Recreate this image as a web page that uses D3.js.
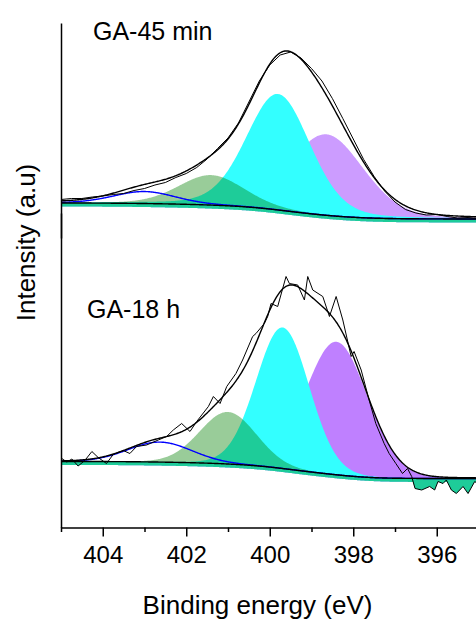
<!DOCTYPE html>
<html>
<head>
<meta charset="utf-8">
<script src="https://cdn.jsdelivr.net/npm/d3@7"></script>
<style>
body { margin: 0; background: #fff; }
text { font-family: Arial, "Liberation Sans", sans-serif; fill: #000; }
</style>
</head>
<body>
<div id="chart"></div>
<script>
// Peak order in every list: blue, green, cyan, purple

// GA-45 min fit (binding energy eV, height a.u., FWHM eV)
var topCenters = [403.0, 401.4, 399.8, 398.64];
var topHeights = [12, 30, 116, 81];
var topFwhm = [1.75, 1.85, 1.8, 2.1];
var topMix = 0.2;          // Lorentzian fraction
var topBgHigh = 16;        // Shirley step

// GA-45 min measured spectrum
var topRawE = [405, 404.75, 404.5, 404.25, 404, 403.75, 403.5, 403.25, 403, 402.75, 402.5,
  402.25, 402, 401.75, 401.5, 401.25, 401, 400.75, 400.5, 400.25, 400, 399.75, 399.5,
  399.25, 399, 398.75, 398.5, 398.25, 398, 397.75, 397.5, 397.25, 397, 396.75, 396.5,
  396.25, 396, 395.75, 395.5, 395.25, 395];
var topRawI = [19.5, 20.5, 20.5, 22, 23, 24.5, 25.5, 28.5, 30.5, 34, 36.5,
  41.5, 45.5, 51.5, 60, 70.5, 81, 96, 117, 138, 154, 164, 167,
  161, 150.5, 138, 120.5, 100.5, 80, 59.5, 42.5, 28, 17, 9.5, 6,
  4, 4.5, 2.5, 1, 1.5, 0.5];

// GA-18 h fit
var botCenters = [402.63, 401.0, 399.69, 398.4];
var botHeights = [20, 52, 141, 133];
var botFwhm = [1.8, 1.6, 1.5, 1.75];
var botMix = 0.05;
var botBgHigh = 17;

// GA-18 h measured spectrum
var botRawE = [404.98, 404.86, 404.74, 404.59, 404.43, 404.26, 404.11, 403.91, 403.75, 403.51,
  403.35, 403.19, 402.95, 402.67, 402.47, 402.31, 402.11, 401.91, 401.75, 401.47,
  401.35, 401.19, 401.03, 400.81, 400.65, 400.41, 400.33, 400.13, 400.05, 399.97,
  399.81, 399.61, 399.53, 399.33, 399.17, 399.09, 398.97, 398.73, 398.57, 398.41,
  398.25, 398.05, 397.98, 397.81, 397.62, 397.46, 397.26, 397.14, 396.98, 396.82,
  396.7, 396.6, 396.52, 396.36, 396.17, 396.05, 395.97, 395.85, 395.77, 395.65,
  395.53, 395.37, 395.25, 395.09, 395.0];
var botRawI = [20, 16.5, 19.5, 12.5, 18, 27, 21, 15, 24, 28,
  25, 32, 33.5, 38.5, 42, 48.5, 55, 47, 57, 72,
  82, 75, 92, 105, 118.5, 142, 145, 155, 162, 175,
  172, 202, 195, 193.5, 178.5, 202, 188.5, 182, 162, 182,
  158.5, 122, 127, 108.5, 78.5, 55, 35, 25, 15, 5,
  10, 2, -10, -11.5, -8, -11.5, -3, -5, -1.5, -11.5,
  -15, -8, -15, -3, -6];

var majorTicks = [404, 402, 400, 398, 396];
var minorTicks = [405, 403, 401, 399, 397, 395];

// Sizing
var width = 476;
var height = 621;
var strip = 3.5;

var svg = d3.select("#chart").append("svg")
    .attr("width", width)
    .attr("height", height);

var x = d3.scaleLinear().domain([405, 395]).range([61, 478.5]);
var yTop = d3.scaleLinear().domain([-19, 196]).range([238, 23]);
var yBot = d3.scaleLinear().domain([-49, 265.5]).range([527.5, 213]);

// pseudo-Voigt peak
function peak(E, c, h, w, m) {
    var d = E - c;
    var g = Math.exp(-4 * Math.LN2 * d * d / (w * w));
    var l = 1 / (1 + 4 * d * d / (w * w));
    return h * ((1 - m) * g + m * l);
}

function drawPanel(p) {
    var grid = d3.range(395, 405.0001, 0.02);
    var rows = grid.map(function (E) {
        var comps = p.centers.map(function (c, i) {
            return peak(E, c, p.heights[i], p.fwhm[i], p.mix);
        });
        return { E: E, comps: comps, sum: d3.sum(comps) };
    });

    // Shirley background from the fitted peaks
    var cum = 0;
    rows.forEach(function (r, i) {
        if (i > 0) cum += (r.sum + rows[i - 1].sum) / 2;
        r.cum = cum;
    });
    rows.forEach(function (r) {
        r.bg = p.bgHigh * r.cum / cum;
    });

    var bis = d3.bisector(function (r) { return r.E; }).left;
    function bgAt(E) {
        var i = Math.min(Math.max(bis(rows, E), 1), rows.length - 1);
        var a = rows[i - 1], b = rows[i];
        var t = (E - a.E) / (b.E - a.E);
        return a.bg + t * (b.bg - a.bg);
    }

    var y = p.y;
    var g = svg.append("g");

    function compArea(k) {
        return d3.area()
            .x(function (r) { return x(r.E); })
            .y0(function (r) { return y(r.bg - strip); })
            .y1(function (r) { return y(r.bg + r.comps[k]); });
    }

    g.append("path").datum(rows).attr("d", compArea(3)).attr("fill", p.purple);
    g.append("path").datum(rows).attr("d", compArea(2)).attr("fill", "#33ffff");
    g.append("path").datum(rows).attr("d", compArea(1)).attr("fill", "rgba(0,128,0,0.4)");

    var raw = p.rawE.map(function (E, i) { return { E: E, I: p.rawI[i], bg: bgAt(E) }; });

    // points under the background
    g.append("path").datum(raw)
        .attr("d", d3.area()
            .x(function (d) { return x(d.E); })
            .y0(function (d) { return y(d.bg); })
            .y1(function (d) { return y(Math.min(d.I, d.bg)); }))
        .attr("fill", "#1ecc99");

    g.append("path").datum(rows)
        .attr("d", d3.line()
            .x(function (r) { return x(r.E); })
            .y(function (r) { return y(r.bg + r.comps[0]); }))
        .attr("fill", "none").attr("stroke", "#0000ff").attr("stroke-width", 1.4);

    g.append("path").datum(rows)
        .attr("d", d3.line()
            .x(function (r) { return x(r.E); })
            .y(function (r) { return y(r.bg); }))
        .attr("fill", "none").attr("stroke", "#000").attr("stroke-width", 1.4);

    g.append("path").datum(raw)
        .attr("d", d3.line()
            .x(function (d) { return x(d.E); })
            .y(function (d) { return y(d.I); }))
        .attr("fill", "none").attr("stroke", "#000").attr("stroke-width", 1);

    g.append("path").datum(rows)
        .attr("d", d3.line()
            .x(function (r) { return x(r.E); })
            .y(function (r) { return y(r.bg + r.sum); }))
        .attr("fill", "none").attr("stroke", "#000").attr("stroke-width", 1.4);

    // left axis of this panel
    var ax = svg.append("g")
        .attr("transform", "translate(61,0)")
        .call(d3.axisLeft(y).tickValues([]).tickSizeOuter(0));
    ax.select(".domain").attr("stroke-width", 1.5);

    svg.append("text")
        .attr("x", p.labelX).attr("y", p.labelY)
        .attr("font-size", 25)
        .text(p.label);
}

drawPanel({
    centers: topCenters, heights: topHeights, fwhm: topFwhm, mix: topMix,
    bgHigh: topBgHigh, rawE: topRawE, rawI: topRawI, y: yTop,
    purple: "#cc9cff", label: "GA-45 min", labelX: 93, labelY: 40
});
drawPanel({
    centers: botCenters, heights: botHeights, fwhm: botFwhm, mix: botMix,
    bgHigh: botBgHigh, rawE: botRawE, rawI: botRawI, y: yBot,
    purple: "#bf80ff", label: "GA-18 h", labelX: 87, labelY: 318
});

// x axis
var xAxis = svg.append("g")
    .attr("transform", "translate(0,527.5)")
    .call(d3.axisBottom(x).tickValues(majorTicks).tickSize(9).tickSizeOuter(0).tickPadding(9.5));
xAxis.select(".domain").attr("stroke-width", 1.5);
xAxis.selectAll(".tick line").attr("stroke-width", 1.5);
xAxis.selectAll(".tick text")
    .attr("font-size", 24)
    .attr("font-family", "Arial, 'Liberation Sans', sans-serif");

var xMinor = svg.append("g")
    .attr("transform", "translate(0,527.5)")
    .call(d3.axisBottom(x).tickValues(minorTicks).tickSize(4.5).tickSizeOuter(0).tickFormat(""));
xMinor.select(".domain").remove();
xMinor.selectAll(".tick line").attr("stroke-width", 1.5);

svg.append("text")
    .attr("x", 257.5).attr("y", 614)
    .attr("text-anchor", "middle")
    .attr("font-size", 26)
    .text("Binding energy (eV)");

svg.append("text")
    .attr("transform", "translate(35,242.5) rotate(-90)")
    .attr("text-anchor", "middle")
    .attr("font-size", 26)
    .text("Intensity (a.u)");
</script>
</body>
</html>
